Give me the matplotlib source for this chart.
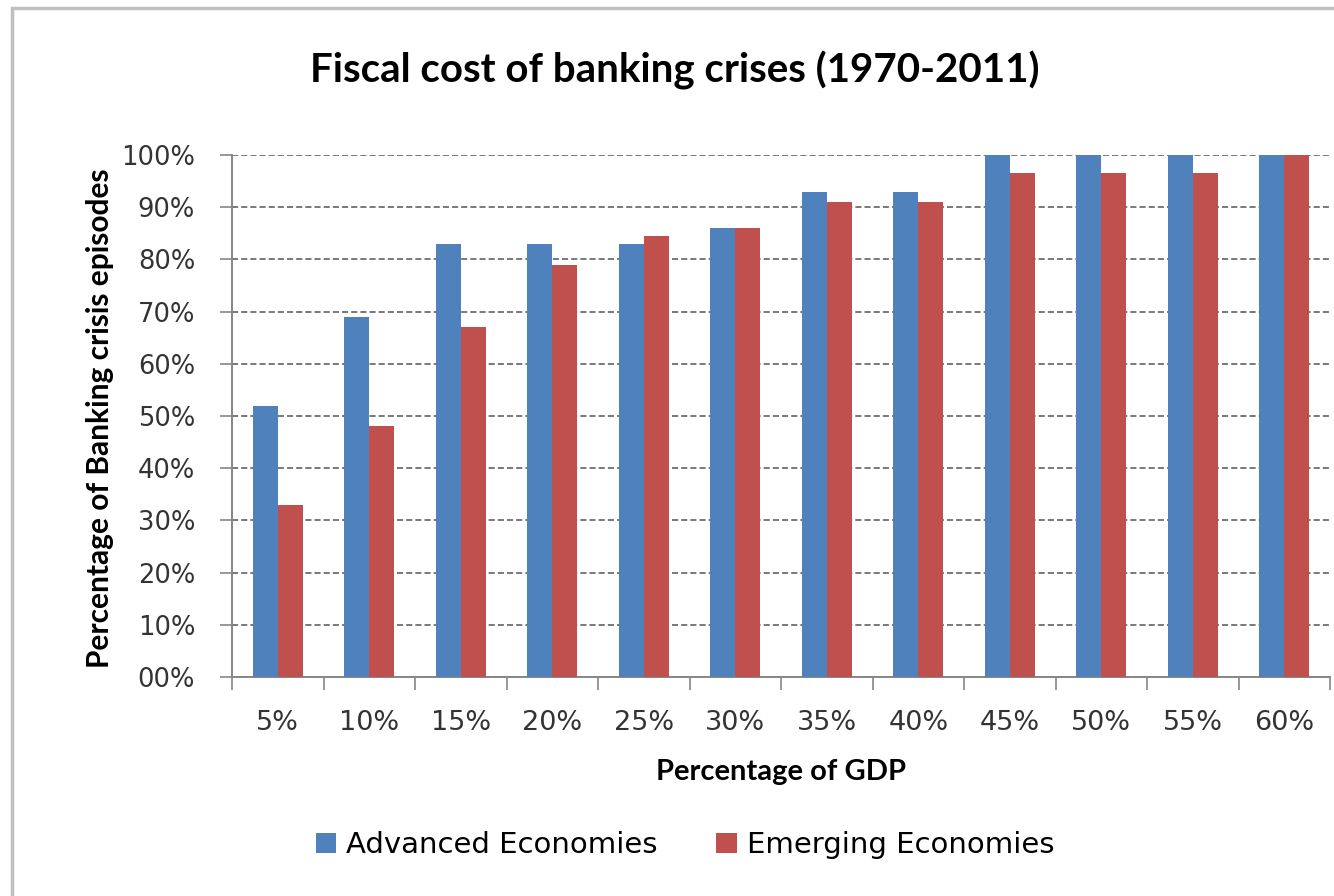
import matplotlib
matplotlib.use("Agg")
import matplotlib.pyplot as plt
from matplotlib.patches import Rectangle
import numpy as np

# Share of banking crisis episodes with fiscal cost below each GDP threshold
categories = ["5%", "10%", "15%", "20%", "25%", "30%", "35%", "40%", "45%", "50%", "55%", "60%"]
advanced = [52, 69, 83, 83, 83, 86, 93, 93, 100, 100, 100, 100]
emerging = [33, 48, 67, 79, 84.5, 86, 91, 91, 96.5, 96.5, 96.5, 100]
ytick_values = [0, 10, 20, 30, 40, 50, 60, 70, 80, 90, 100]
ytick_labels = ["00%", "10%", "20%", "30%", "40%", "50%", "60%", "70%", "80%", "90%", "100%"]

BLUE = "#4F81BD"
RED = "#C0504D"
AXIS_GRAY = "#868686"

W, H = 1334, 896
fig = plt.figure(figsize=(W / 100, H / 100), dpi=100)
fig.patch.set_facecolor("white")

# chart frame
fig.patches.append(Rectangle((12 / W, -0.05), 1.2, 1 - 8 / H + 0.05,
                             transform=fig.transFigure, fill=False,
                             edgecolor="#BFBFBF", linewidth=2.5))

ax = fig.add_axes([232 / W, 1 - 677 / H, (1330 - 232) / W, (677 - 155) / H])
x = np.arange(len(categories))
bw = 0.275
ax.bar(x - bw / 2, advanced, width=bw, color=BLUE, label="Advanced Economies", zorder=3)
ax.bar(x + bw / 2, emerging, width=bw, color=RED, label="Emerging Economies", zorder=3)

ax.set_xlim(-0.5, len(categories) - 0.5)
ax.set_ylim(0, 100)

ax.set_yticks(ytick_values)
ax.set_yticklabels(ytick_labels, fontsize=18.5, family="DejaVu Sans", color="#333333")
ax.yaxis.grid(True, linestyle=(0, (4, 2)), color="#555555", linewidth=1.1, zorder=0)
ax.tick_params(axis="y", length=8.6, width=1.2, color=AXIS_GRAY, pad=18)

ax.set_xticks(x)
ax.set_xticklabels(categories, fontsize=19.5, family="DejaVu Sans", color="#333333")
ax.set_xticks(np.arange(-0.5, len(categories)), minor=True)
ax.tick_params(axis="x", which="major", length=0, pad=24)
ax.tick_params(axis="x", which="minor", length=9, width=1.2, color=AXIS_GRAY)

for side in ("top", "right"):
    ax.spines[side].set_visible(False)
for side in ("left", "bottom"):
    ax.spines[side].set_color(AXIS_GRAY)
    ax.spines[side].set_linewidth(1.4)

fig.text(675 / W, 1 - 70 / H, "Fiscal cost of banking crises (1970-2011)",
         ha="center", va="center", fontsize=29, fontweight="bold", family="Lato")
fig.text(781 / W, 1 - 772 / H, "Percentage of GDP",
         ha="center", va="center", fontsize=21, fontweight="bold", family="Lato")
fig.text(100 / W, 1 - 418 / H, "Percentage of Banking crisis episodes",
         ha="center", va="center", rotation=90, fontsize=21.5, fontweight="bold", family="Lato")

fig.legend(loc="center", bbox_to_anchor=(685 / W, 1 - 845 / H), ncol=2,
           frameon=False, handlelength=0.7, handleheight=0.7,
           handletextpad=0.35, columnspacing=2.0,
           prop={"family": "DejaVu Sans", "size": 21})

fig.savefig("out.png", dpi=100)
